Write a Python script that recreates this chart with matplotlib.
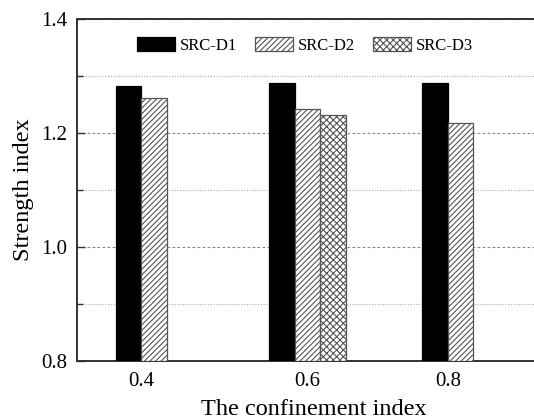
import numpy as np
import matplotlib
matplotlib.use("Agg")
import matplotlib.pyplot as plt

plt.rcParams['font.family'] = ['Liberation Serif', 'DejaVu Serif']
plt.rcParams['hatch.linewidth'] = 0.8

# Data: strength index per confinement index (NaN = specimen not tested)
categories = ["0.4", "0.6", "0.8"]
series_names = ["SRC-D1", "SRC-D2", "SRC-D3"]
src_d1 = [1.283, 1.288, 1.288]
src_d2 = [1.261, 1.242, 1.217]
src_d3 = [np.nan, 1.231, np.nan]

series = [src_d1, src_d2, src_d3]
styles = [
    dict(color="black", edgecolor="black", hatch=None),
    dict(color="white", edgecolor="#555555", hatch="//////"),
    dict(color="white", edgecolor="#555555", hatch="xxxxx"),
]

fig = plt.figure(figsize=(5.34, 4.19), dpi=100)
ax = fig.add_axes([77 / 534, 1 - 361 / 419, (550 - 77) / 534, (361 - 19) / 419])

width = 0.167
offsets = [-width, 0.0, width]
x = np.arange(len(categories))

bar_centres = [[] for _ in categories]
for vals, off, st, name in zip(series, offsets, styles, series_names):
    vals = np.asarray(vals, dtype=float)
    mask = ~np.isnan(vals)
    ax.bar(x[mask] + off, vals[mask] - 0.8, width, bottom=0.8,
           label=name, linewidth=0.9, zorder=3, **st)
    for i in np.where(mask)[0]:
        bar_centres[i].append(x[i] + off)

# Category labels sit under the middle of the bars present in each group
tick_pos = [np.mean(c) for c in bar_centres]
ax.set_xticks(tick_pos)
ax.set_xticklabels(categories)
ax.tick_params(axis="x", length=0, pad=8, labelsize=15)

ax.set_xlim(-0.504, 2.583)
ax.set_ylim(0.8, 1.4)
ax.set_yticks([0.8, 1.0, 1.2, 1.4])
ax.set_yticks([0.9, 1.1, 1.3], minor=True)
ax.set_yticklabels(["0.8", "1.0", "1.2", "1.4"])
ax.tick_params(axis="y", which="major", direction="in", length=6, width=1.0,
               pad=7, labelsize=15, color="#333333")
ax.tick_params(axis="y", which="minor", direction="in", length=4, width=1.0,
               color="#333333")

ax.grid(axis="y", which="major", linestyle=(0, (2.5, 2)), color="#888888",
        linewidth=0.8, zorder=0)
ax.grid(axis="y", which="minor", linestyle=(0, (1, 1.5)), color="#aaaaaa",
        linewidth=0.8, zorder=0)

for side in ["top", "bottom", "left"]:
    ax.spines[side].set_linewidth(1.4)
    ax.spines[side].set_color("#333333")
ax.spines["right"].set_visible(False)

ax.set_xlabel("The confinement index", fontsize=17.5, labelpad=6)
ax.set_ylabel("Strength index", fontsize=17.5, labelpad=5)

leg = ax.legend(loc="upper left", bbox_to_anchor=((130 - 77) / 473, 0.967),
                ncol=3, frameon=False, fontsize=12,
                handlelength=2.3, handleheight=0.95, handletextpad=0.3,
                columnspacing=1.05, borderaxespad=0.0)

fig.savefig("out.png", dpi=100)
